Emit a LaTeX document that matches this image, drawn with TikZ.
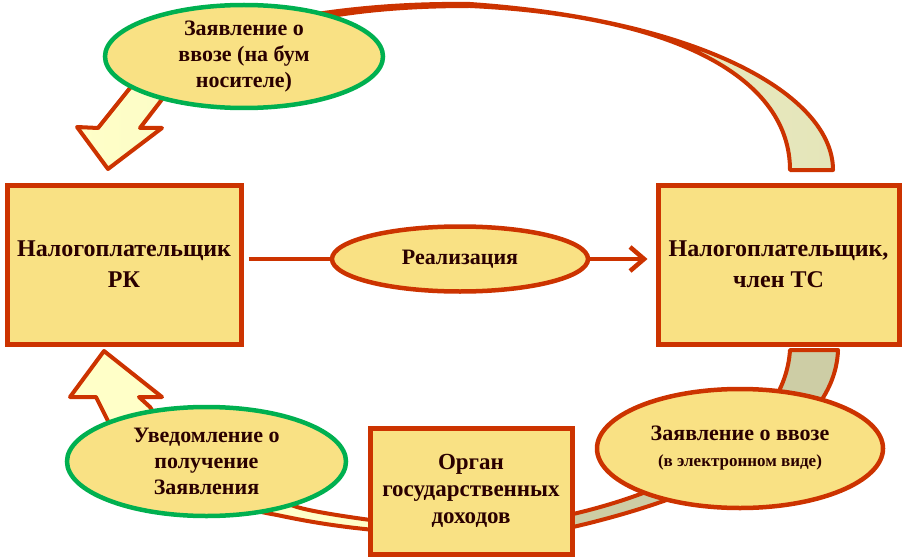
\documentclass[tikz,border=0pt]{standalone}
\usepackage{fontspec}
\setmainfont{Liberation Serif}
\usetikzlibrary{positioning}
\usetikzlibrary{shapes}
\usetikzlibrary{arrows.meta}
\definecolor{rim}{HTML}{CC3300}
\definecolor{leaf}{HTML}{00B050}
\definecolor{straw}{HTML}{F9E184}
\definecolor{cream}{HTML}{FFFFC8}
\definecolor{sage}{HTML}{E4E5BA}
\definecolor{olive}{HTML}{CDCDA5}
\definecolor{ink}{HTML}{2A0000}
\tikzset{party/.style={rectangle,draw=rim,fill=straw,line width=5pt,text=ink,align=center,font=\bfseries\fontsize{24}{31}\selectfont}}
\tikzset{paper/.style={ellipse,draw=leaf,fill=straw,line width=4.5pt,text=ink,align=center,inner sep=0pt,font=\bfseries\fontsize{22}{26}\selectfont}}
\tikzset{epaper/.style={paper,draw=rim}}
\tikzset{band/.style={draw=rim,line width=4pt,line join=round}}
\tikzset{link/.style={draw=rim,line width=4.5pt}}

\begin{document}
\begin{tikzpicture}[x=1pt,y=-1pt]
  \useasboundingbox (0,0) rectangle (907,559);

  \draw[band,left color=cream,right color=sage] (790,170) -- (833,170)
    .. controls (833,95) and (700,20) .. (470,4)
    .. controls (330,2) and (180,30) .. (130,88)
    -- (98,128) -- (77,127) -- (108,169) -- (162,128) -- (140,128) -- (160,102)
    .. controls (210,30) and (330,6) .. (470,6)
    .. controls (680,16) and (790,80) .. (790,170) -- cycle;
  \filldraw[band,fill=cream] (104,351) -- (162,397) -- (139,397) -- (150,407)
    .. controls (170,440) and (230,485) .. (297,507)
    .. controls (310,511) and (340,516) .. (385,522) -- (385,531)
    .. controls (340,527) and (310,522) .. (277,515)
    .. controls (220,505) and (140,480) .. (110,425)
    -- (96,397) -- (70,397) -- cycle;
  \filldraw[band,fill=olive] (790,350) -- (838,350)
    .. controls (835,440) and (700,500) .. (555,531) -- (555,518)
    .. controls (690,490) and (785,430) .. (790,350) -- cycle;

  \node[party,minimum width=234pt,minimum height=159pt] (rk) at (124,264.5)
    {Налогоплательщик\\РК};
  \node[party,minimum width=241pt,minimum height=159pt] (ts) at (778.5,264.5)
    {Налогоплательщик,\\член ТС};
  \node[party,minimum width=202pt,minimum height=126pt,
    font=\bfseries\fontsize{23}{27}\selectfont] (organ) at (471,491)
    {Орган\\государственных\\доходов};

  \node[paper,minimum width=278pt,minimum height=103pt] (zayav) at (244,56.5)
    {Заявление о\\ввозе (на бум\\носителе)};
  \node[epaper,minimum width=256pt,minimum height=65pt] (real) at (460,259)
    {Реализация};
  \node[paper,minimum width=279pt,minimum height=109pt] (uved) at (206.5,461.5)
    {Уведомление о\\получение\\Заявления};
  \node[epaper,minimum width=286pt,minimum height=119pt] (elzayav) at (740,448.5)
    {Заявление о ввозе\\{\fontsize{17}{22}\selectfont(в электронном виде)}};

  \draw[link,shorten <=5pt] (rk.east |- real) -- (real.west);
  \draw[link,shorten >=8pt,-{Straight Barb[length=14pt,width=24pt]}] (real.east) -- (ts.west |- real);
\end{tikzpicture}
\end{document}
